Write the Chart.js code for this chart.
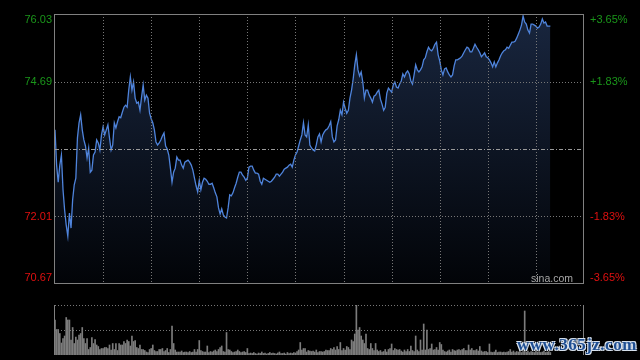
<!DOCTYPE html>
<html>
<head>
<meta charset="utf-8">
<script src="https://cdn.jsdelivr.net/npm/chart.js@4/dist/chart.umd.min.js"></script>
<style>
  html, body { margin: 0; padding: 0; background: #000; }
  #wrap { position: relative; width: 640px; height: 360px; overflow: hidden; background: #000; }
  #price { position: absolute; left: 0; top: 0; }
  #volume { position: absolute; left: 0; top: 290px; }
  #mark {
    position: absolute; left: 517px; top: 335px; z-index: 2;
    font: bold 17px "Liberation Serif", serif; line-height: 20px; letter-spacing: 0.5px;
    color: #1f4f93;
    text-shadow: -1px -1px 0 #d8e2ee, 1px -1px 0 #d8e2ee, -1px 1px 0 #d8e2ee, 1px 1px 0 #d8e2ee;
  }
</style>
</head>
<body>
<div id="wrap">
  <canvas id="price" width="640" height="290"></canvas>
  <canvas id="volume" width="640" height="70"></canvas>
  <div id="mark">www.365jz.com</div>
</div>
<script>
// one value per minute, 09:30 onwards (HK session, 330 minutes in the day)
const prices = [
  73.73, 73.03, 72.69, 73.03, 73.23, 72.54, 72.14, 71.84, 71.62, 72.08,
  71.78, 72.34, 72.64, 72.77, 73.57, 73.87, 74.03, 73.73, 73.53, 73.41,
  73.17, 73.37, 72.89, 72.93, 73.23, 73.29, 73.53, 73.47, 73.33, 73.63,
  73.79, 73.63, 73.73, 73.83, 73.57, 73.33, 73.43, 73.87, 73.77, 73.89,
  73.99, 73.97, 74.08, 74.18, 74.22, 74.18, 74.52, 74.78, 74.52, 74.68,
  74.36, 74.26, 74.28, 74.12, 74.38, 74.62, 74.32, 74.42, 74.36, 74.06,
  73.95, 73.87, 73.73, 73.49, 73.43, 73.47, 73.53, 73.61, 73.67, 73.41,
  73.35, 73.23, 72.97, 72.69, 72.89, 72.97, 73.19, 73.13, 73.13, 73.03,
  72.97, 73.09, 73.11, 73.13, 73.09, 73.03, 72.93, 72.77, 72.62, 72.50,
  72.73, 72.54, 72.69, 72.77, 72.75, 72.71, 72.65, 72.65, 72.67, 72.58,
  72.48, 72.40, 72.18, 72.06, 72.16, 72.04, 72.00, 71.98, 72.18, 72.44,
  72.42, 72.48, 72.58, 72.67, 72.79, 72.89, 72.89, 72.83, 72.79, 72.73,
  72.77, 72.99, 73.01, 73.01, 72.93, 72.87, 72.87, 72.85, 72.71, 72.65,
  72.77, 72.75, 72.73, 72.71, 72.69, 72.71, 72.75, 72.79, 72.85, 72.85,
  72.81, 72.85, 72.89, 72.95, 72.97, 72.99, 73.03, 73.05, 72.99, 73.13,
  73.23, 73.29, 73.41, 73.53, 73.63, 73.87, 73.63, 73.59, 73.83, 73.43,
  73.37, 73.33, 73.31, 73.43, 73.59, 73.65, 73.49, 73.63, 73.69, 73.73,
  73.75, 73.81, 73.89, 73.59, 73.49, 73.53, 73.81, 73.93, 74.12, 74.03,
  74.28, 74.16, 74.06, 74.12, 74.36, 74.52, 74.74, 75.02, 75.22, 74.92,
  74.80, 74.88, 74.68, 74.36, 74.52, 74.52, 74.42, 74.36, 74.28, 74.40,
  74.42, 74.48, 74.52, 74.34, 74.24, 74.12, 74.18, 74.46, 74.56, 74.52,
  74.48, 74.62, 74.68, 74.58, 74.56, 74.64, 74.70, 74.84, 74.78, 74.86,
  74.90, 74.84, 74.70, 74.64, 74.82, 75.02, 74.92, 74.88, 74.92, 74.98,
  75.12, 75.16, 75.28, 75.37, 75.32, 75.30, 75.35, 75.43, 75.47, 75.22,
  75.10, 74.92, 74.82, 74.94, 74.96, 74.88, 74.82, 74.78, 74.82, 75.00,
  75.12, 75.12, 75.14, 75.16, 75.20, 75.26, 75.32, 75.37, 75.35, 75.28,
  75.28, 75.35, 75.43, 75.37, 75.32, 75.26, 75.18, 75.22, 75.26, 75.18,
  75.16, 75.12, 75.06, 74.98, 75.08, 74.98, 75.06, 75.12, 75.20, 75.26,
  75.30, 75.32, 75.37, 75.35, 75.41, 75.47, 75.47, 75.49, 75.55, 75.63,
  75.71, 75.81, 75.99, 75.87, 75.83, 75.71, 75.65, 75.83, 75.83, 75.81,
  75.79, 75.75, 75.77, 75.83, 75.93, 75.85, 75.87, 75.79, 75.79, 75.79
];

const volumes = [
  70, 51, 51, 43, 24, 33, 38, 75, 70, 70,
  30, 55, 23, 36, 30, 40, 43, 55, 33, 23,
  33, 11, 15, 35, 23, 31, 20, 17, 11, 13,
  13, 15, 15, 13, 20, 10, 23, 11, 23, 9,
  23, 20, 20, 27, 23, 30, 27, 18, 38, 27,
  29, 15, 13, 20, 11, 11, 9, 6, 5, 11,
  13, 20, 9, 7, 7, 11, 11, 13, 7, 9,
  13, 5, 11, 58, 23, 10, 6, 6, 6, 8,
  5, 6, 6, 5, 7, 5, 6, 11, 6, 11,
  29, 9, 7, 6, 6, 18, 5, 7, 6, 8,
  10, 7, 11, 15, 18, 7, 6, 45, 11, 10,
  7, 5, 6, 7, 10, 7, 5, 6, 7, 5,
  13, 3, 4, 3, 5, 3, 2, 4, 3, 6,
  3, 4, 2, 3, 5, 3, 4, 3, 2, 4,
  6, 3, 3, 4, 2, 5, 3, 4, 3, 5,
  4, 7, 10, 25, 10, 13, 13, 6, 9, 8,
  7, 8, 6, 10, 5, 7, 7, 6, 7, 10,
  9, 9, 13, 11, 15, 10, 17, 11, 25, 9,
  13, 10, 17, 15, 11, 30, 27, 42, 100, 50,
  55, 38, 30, 23, 42, 13, 11, 23, 13, 9,
  23, 10, 7, 9, 6, 7, 11, 6, 11, 13,
  22, 9, 13, 11, 10, 11, 8, 6, 10, 7,
  11, 7, 18, 9, 7, 38, 10, 7, 30, 10,
  62, 10, 50, 11, 13, 22, 10, 11, 15, 10,
  25, 21, 10, 7, 6, 8, 10, 6, 11, 9,
  8, 10, 11, 9, 11, 13, 9, 9, 20, 10,
  13, 9, 9, 11, 8, 17, 8, 6, 7, 7,
  5, 22, 6, 5, 6, 10, 5, 6, 6, 5,
  6, 5, 6, 7, 11, 6, 8, 5, 7, 6,
  9, 5, 7, 88, 6, 8, 5, 7, 6, 5,
  8, 6, 7, 5, 6, 8, 5, 6, 7, 5
];

const prevClose = 73.35;
const priceTicks = [76.03, 74.69, 72.01, 70.67];
const priceLabels = ['76.03', '74.69', '72.01', '70.67'];
const pctLabels = ['+3.65%', '+1.83%', '-1.83%', '-3.65%'];
const minuteTicks = [0, 30, 60, 90, 120, 150, 180, 210, 240, 270, 300, 330];
const volumeTicks = [50, 100];

const GREEN = '#1a961a';
const RED = '#e01010';

const hline = (ctx, x1, x2, y) => {
  ctx.beginPath();
  ctx.moveTo(x1, y);
  ctx.lineTo(x2, y);
  ctx.stroke();
};

const vline = (ctx, x, y1, y2) => {
  ctx.beginPath();
  ctx.moveTo(x, y1);
  ctx.lineTo(x, y2);
  ctx.stroke();
};

const priceFrame = {
  id: 'priceFrame',
  afterDatasetsDraw(chart) {
    const { ctx, chartArea: a, scales: { x, y } } = chart;
    ctx.save();
    ctx.lineWidth = 1;

    ctx.strokeStyle = '#777';
    ctx.setLineDash([1, 2]);
    minuteTicks.slice(1, -1).forEach(t => {
      vline(ctx, Math.round(x.getPixelForValue(t)) + 0.5, a.top, a.bottom);
    });
    priceTicks.slice(1, -1).forEach(v => {
      hline(ctx, a.left, a.right, Math.round(y.getPixelForValue(v)) + 0.5);
    });

    ctx.strokeStyle = '#9a9a9a';
    ctx.setLineDash([4, 2, 1, 2]);
    hline(ctx, a.left, a.right, Math.round(y.getPixelForValue(prevClose)) + 0.5);

    ctx.setLineDash([]);
    ctx.strokeStyle = '#808080';
    ctx.strokeRect(a.left - 0.5, a.top + 0.5, a.width, a.height - 1);

    ctx.font = '11px Arial, "Liberation Sans", sans-serif';
    ctx.textBaseline = 'middle';
    priceTicks.forEach((v, i) => {
      const py = Math.min(Math.max(y.getPixelForValue(v), a.top + 6), a.bottom - 6.5);
      ctx.fillStyle = v > prevClose ? GREEN : RED;
      ctx.textAlign = 'right';
      ctx.fillText(priceLabels[i], a.left - 3, py);
      ctx.textAlign = 'left';
      ctx.fillText(pctLabels[i], a.right + 6, py);
    });

    ctx.font = '10.5px Arial, "Liberation Sans", sans-serif';
    ctx.fillStyle = '#a8a8a8';
    ctx.textAlign = 'right';
    ctx.textBaseline = 'alphabetic';
    ctx.fillText('sina.com', a.right - 11, a.bottom - 2);
    ctx.restore();
  }
};

const volumeFrame = {
  id: 'volumeFrame',
  afterDatasetsDraw(chart) {
    const { ctx, chartArea: a, scales: { y } } = chart;
    ctx.save();
    ctx.lineWidth = 1;
    ctx.strokeStyle = '#777';
    ctx.setLineDash([1, 2]);
    volumeTicks.forEach(v => {
      hline(ctx, a.left, a.right, Math.round(y.getPixelForValue(v)) + 0.5);
    });
    ctx.setLineDash([]);
    ctx.strokeStyle = '#808080';
    vline(ctx, a.left - 0.5, a.top, a.bottom);
    vline(ctx, a.right - 0.5, a.top, a.bottom);
    ctx.restore();
  }
};

const fillGradient = (context) => {
  const { ctx, chartArea } = context.chart;
  if (!chartArea) return 'rgba(20,32,52,0.9)';
  const g = ctx.createLinearGradient(0, chartArea.top, 0, chartArea.bottom);
  g.addColorStop(0, 'rgba(26,40,66,0.95)');
  g.addColorStop(1, 'rgba(2,4,8,0.95)');
  return g;
};

new Chart(document.getElementById('price'), {
  type: 'line',
  data: {
    datasets: [{
      data: prices.map((p, i) => ({ x: i, y: p })),
      borderColor: '#4f84dc',
      borderWidth: 1.3,
      backgroundColor: fillGradient,
      fill: 'start',
      pointRadius: 0,
      tension: 0,
    }],
  },
  options: {
    responsive: false,
    animation: false,
    layout: { padding: { left: 55, right: 56, top: 14, bottom: 6 } },
    scales: {
      x: { type: 'linear', min: 0, max: 330, display: false },
      y: { min: 70.67, max: 76.03, display: false },
    },
    plugins: { legend: { display: false }, tooltip: { enabled: false } },
  },
  plugins: [priceFrame],
});

new Chart(document.getElementById('volume'), {
  type: 'bar',
  data: {
    datasets: [{
      data: volumes.map((v, i) => ({ x: i, y: v })),
      backgroundColor: '#7c7c7c',
      barThickness: 1,
    }],
  },
  options: {
    responsive: false,
    animation: false,
    layout: { padding: { left: 55, right: 56, top: 15, bottom: 5 } },
    scales: {
      x: { type: 'linear', min: 0, max: 330, offset: false, display: false },
      y: { min: 0, max: 100, display: false },
    },
    plugins: { legend: { display: false }, tooltip: { enabled: false } },
  },
  plugins: [volumeFrame],
});
</script>
</body>
</html>
